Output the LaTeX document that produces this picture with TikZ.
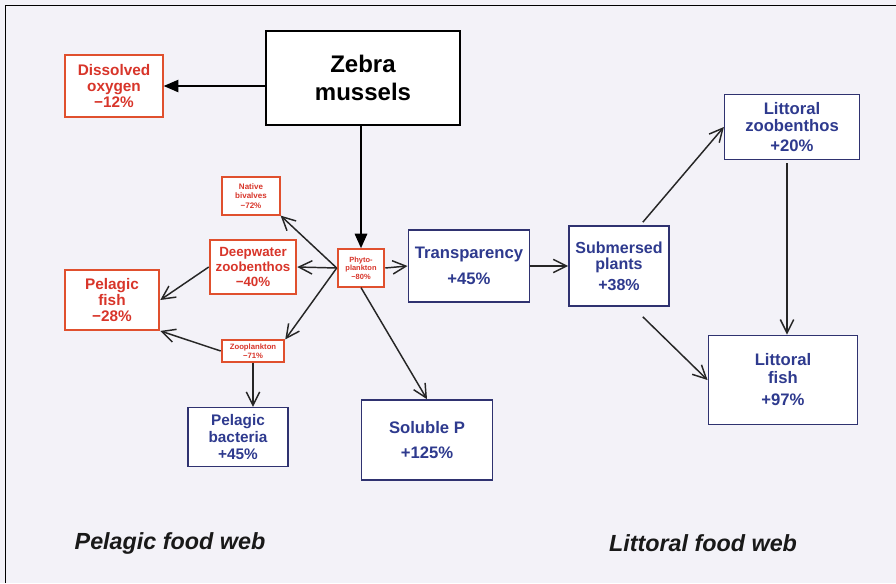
\documentclass[tikz,border=0pt]{standalone}
\usepackage{fontspec}
\setmainfont{Liberation Sans}
\usetikzlibrary{arrows.meta}
\definecolor{bgfill}{HTML}{F3F2F8}
\definecolor{redline}{HTML}{E0502E}
\definecolor{redtext}{HTML}{D8352A}
\definecolor{navyline}{HTML}{2F3270}
\definecolor{navytext}{HTML}{2E3A8E}

\begin{document}
\begin{tikzpicture}[
    x=0.75pt, y=-0.75pt,
    redbox/.style={draw=redline, line width=1.4pt, fill=white, text=redtext,
        align=center, font=\bfseries, inner sep=1pt},
    bluebox/.style={draw=navyline, line width=1.2pt, fill=white, text=navytext,
        align=center, font=\bfseries\fontsize{12.5}{13}\selectfont, inner sep=1pt},
    arr/.style={-{Straight Barb[length=10pt, width=10pt]}, line width=1.1pt, black!85},
    bigarr/.style={-{Triangle[length=11pt, width=9pt]}, line width=2.2pt, black},
    webtitle/.style={font=\bfseries\itshape\fontsize{17.5}{19}\selectfont, black!90}
]

% --- Background and frame ---
\fill[bgfill] (0,0) rectangle (896,583);
\useasboundingbox (0,0) rectangle (896,583);
\draw[line width=1.3pt, black] (5.5,583) -- (5.5,5.5) -- (896,5.5);

% --- Source ---
\node[draw=black, line width=1.6pt, fill=white, minimum width=146pt, minimum height=71pt,
    align=center, font=\bfseries\fontsize{18}{21}\selectfont] (zebra) at (363,78) {Zebra\\mussels};

% --- Pelagic side (red = decrease) ---
\node[redbox, minimum width=73pt, minimum height=47pt, font=\bfseries\fontsize{11.5}{12}\selectfont]
    (oxygen) at (114,86) {Dissolved\\oxygen\\−12\%};
\node[redbox, minimum width=35pt, minimum height=28pt, font=\bfseries\fontsize{5.6}{6.4}\selectfont]
    (phyto) at (361,268) {Phyto-\\plankton\\−80\%};
\node[redbox, minimum width=43pt, minimum height=28pt, font=\bfseries\fontsize{6}{7}\selectfont]
    (bivalves) at (251,196) {Native\\bivalves\\−72\%};
\node[redbox, minimum width=65pt, minimum height=41pt, font=\bfseries\fontsize{10}{11.5}\selectfont]
    (deepbenthos) at (253,267) {Deepwater\\zoobenthos\\−40\%};
\node[redbox, minimum width=47pt, minimum height=16pt, font=\bfseries\fontsize{5.8}{6.4}\selectfont]
    (zooplankton) at (253,351) {Zooplankton\\−71\%};
\node[redbox, minimum width=71pt, minimum height=45pt, font=\bfseries\fontsize{11.5}{12}\selectfont]
    (pelfish) at (112,300) {Pelagic\\fish\\−28\%};
\node[bluebox, minimum width=75pt, minimum height=44pt, font=\bfseries\fontsize{11.5}{12.5}\selectfont]
    (bacteria) at (238,437) {Pelagic\\bacteria\\+45\%};
\node[bluebox, minimum width=98pt, minimum height=60pt] (solubleP) at (427,440) {Soluble P\\[6pt]+125\%};

% --- Littoral side (blue = increase) ---
\node[bluebox, minimum width=91pt, minimum height=54pt] (transparency) at (469,266) {Transparency\\[6pt]+45\%};
\node[bluebox, minimum width=75pt, minimum height=60pt, font=\bfseries\fontsize{12}{12.5}\selectfont]
    (plants) at (619,266) {Submersed\\plants\\[3pt]+38\%};
\node[bluebox, minimum width=101pt, minimum height=49pt] (litbenthos) at (792,127) {Littoral\\zoobenthos\\[2pt]+20\%};
\node[bluebox, minimum width=112pt, minimum height=67pt] (litfish) at (783,380) {Littoral\\fish\\[4pt]+97\%};

% --- Connections ---
\draw[bigarr, line width=1.6pt] (oxygen.east -| zebra.west) -- (oxygen.east);
\draw[bigarr] (zebra.south -| phyto.north) -- (phyto.north);

\draw[arr] (phyto.west) -- (bivalves.south east);
\draw[arr] (phyto.west) -- (deepbenthos.east);
\draw[arr] (phyto.west) -- (zooplankton.north east);
\draw[arr] (phyto.east) -- (transparency.west);
\draw[arr] (phyto.south) -- (solubleP.north);
\draw[arr] (deepbenthos.west) -- (pelfish.east);
\draw[arr] (zooplankton.west) -- (pelfish.south east);
\draw[arr] (zooplankton.south) -- (bacteria.north -| zooplankton.south);

\draw[arr] (transparency.east) -- (plants.west);
\draw[arr] (plants.north east) ++(-27,-3) coordinate (pn) (pn) -- (litbenthos.west);
\draw[arr] (plants.south east) ++(-27,10) coordinate (ps) (ps) -- (litfish.west);
\draw[arr] (litbenthos.south) ++(-5,3) coordinate (lb) (lb) -- (litfish.north -| lb);

% --- Captions ---
\node[webtitle] (pelweb) at (170,543) {Pelagic food web};
\node[webtitle] (litweb) at (703,543) {Littoral food web};
\end{tikzpicture}
\end{document}
